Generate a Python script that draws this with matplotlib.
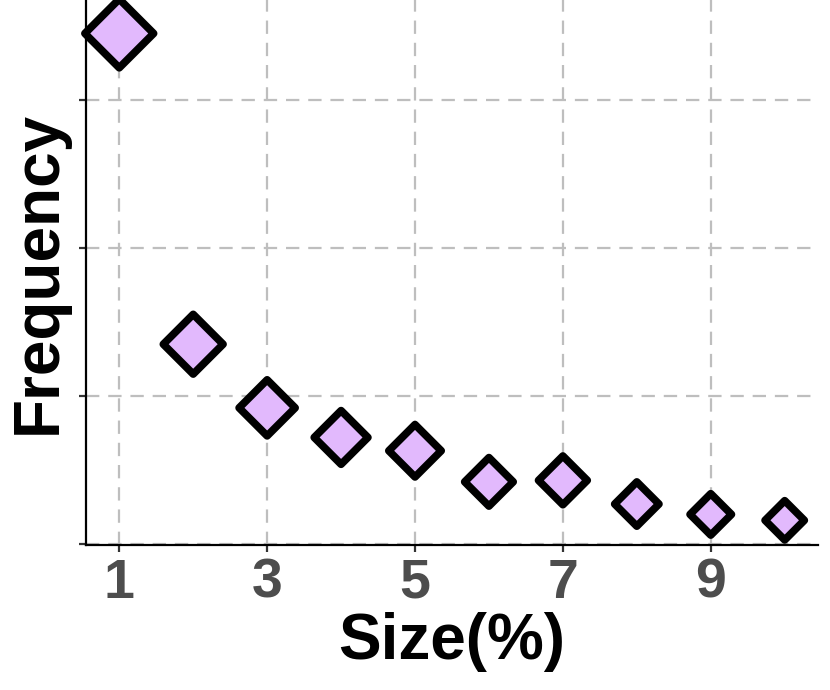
import numpy as np
import matplotlib
matplotlib.use("Agg")
from matplotlib import pyplot as plt
from matplotlib.markers import MarkerStyle

## data (frequency in arbitrary units, ticks every 100)
size_pct  = [1, 2, 3, 4, 5, 6, 7, 8, 9, 10]
frequency = [345, 135, 92, 72, 63, 42, 43, 27, 20, 16]
xticks    = [1, 3, 5, 7, 9]
yticks    = [0, 100, 200, 300]

plt.rcParams['font.family'] = ['Liberation Sans', 'DejaVu Sans']

fig = plt.figure(figsize=(8.3, 6.9), dpi=100)
ax  = fig.add_axes([0.1036, 0.2101, 0.8819, 0.7899])

## marker size follows frequency on a log scale
f    = np.array(frequency, dtype=float)
t    = (np.log(f) - np.log(f.min())) / (np.log(f.max()) - np.log(f.min()))
ms   = 20.0 + (35.0 - 20.0) * t          # side of the diamond in points
mk   = MarkerStyle('D', joinstyle='round')
ax.scatter(size_pct, frequency, s=ms**2, marker=mk, facecolor='#E2B9FD',
           edgecolor='black', linewidth=5.5, zorder=3, clip_on=False)

ax.set_xlim(0.55, 10.45)
ax.set_ylim(-0.7, 367.6)
ax.set_xticks(xticks)
ax.set_yticks(yticks)
ax.set_yticklabels([])

ax.grid(True, color='#BEBEBE', linestyle=(0, (6, 4)), linewidth=1.6, zorder=0)
for s in ['top', 'right']:
    ax.spines[s].set_visible(False)
for s in ['left', 'bottom']:
    ax.spines[s].set_linewidth(1.6)
    ax.spines[s].set_color('black')

ax.tick_params(axis='both', length=5, width=1.6, color='#333333')
ax.tick_params(axis='x', labelsize=40, labelcolor='#4D4D4D', pad=4)
for lb in ax.get_xticklabels():
    lb.set_fontweight('bold')

ax.set_xlabel('Size(%)', fontsize=46, fontweight='bold', labelpad=2)
ax.set_ylabel('Frequency', fontsize=46, fontweight='bold', labelpad=4)

fig.savefig('out.png', dpi=100)
